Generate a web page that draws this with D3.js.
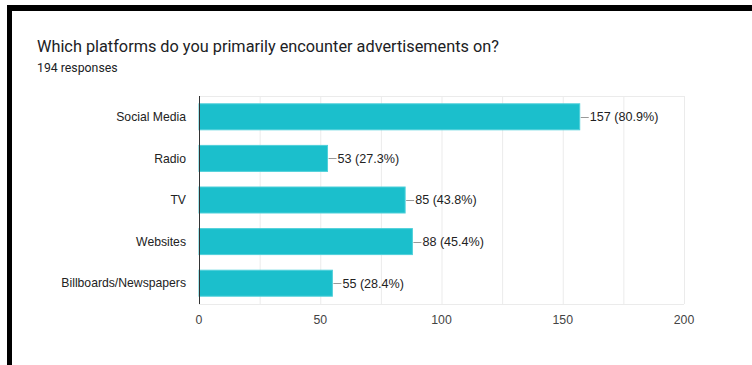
<!DOCTYPE html>
<html>
<head>
<meta charset="utf-8">
<script src="https://cdn.jsdelivr.net/npm/d3@7"></script>
<style>
  html, body { margin: 0; padding: 0; background: #fff; }
  svg { display: block; }
</style>
</head>
<body>
<svg id="chart" width="752" height="365"></svg>
<script>
// Survey results: platforms where respondents encounter advertisements
const categories = ["Social Media", "Radio", "TV", "Websites", "Billboards/Newspapers"];
const counts = [157, 53, 85, 88, 55];
const totalResponses = 194;
const tickValues = [0, 50, 100, 150, 200];
const gridValues = [25, 50, 75, 100, 125, 150, 175, 200];

const title = "Which platforms do you primarily encounter advertisements on?";
const subtitle = totalResponses + " responses";

const svg = d3.select("#chart");
const W = 752, H = 365;

// Frame: dark rules along the top and left edges
svg.append("rect").attr("x", 0).attr("y", 0).attr("width", W).attr("height", H).attr("fill", "#fff");
svg.append("rect").attr("x", 7).attr("y", 5).attr("width", W - 7).attr("height", 6).attr("fill", "#000");
svg.append("rect").attr("x", 7).attr("y", 5).attr("width", 5).attr("height", H - 5).attr("fill", "#000");

svg.append("text")
  .attr("x", 37).attr("y", 52)
  .attr("font-family", "Roboto, Arial, sans-serif")
  .attr("font-size", 16.3)
  .attr("fill", "#202124")
  .text(title);

svg.append("text")
  .attr("x", 37).attr("y", 72)
  .attr("font-family", "Roboto, Arial, sans-serif")
  .attr("font-size", 12.3)
  .attr("fill", "#202124")
  .text(subtitle);

const plot = { left: 199, right: 684, top: 96, bottom: 304 };

const x = d3.scaleLinear().domain([0, 200]).range([plot.left, plot.right]);
const y = d3.scaleBand().domain(categories).range([plot.top, plot.bottom]).paddingInner(0.375).paddingOuter(0.1875);

const labelFont = "'Liberation Sans', Arial, sans-serif";

// Vertical gridlines every 25
svg.append("g").selectAll("line").data(gridValues).join("line")
  .attr("x1", d => x(d) + 0.5).attr("x2", d => x(d) + 0.5)
  .attr("y1", plot.top).attr("y2", plot.bottom)
  .attr("stroke", "#ebebeb").attr("stroke-width", 1);

// Top and bottom plot edges
svg.append("line")
  .attr("x1", plot.left).attr("x2", plot.right)
  .attr("y1", plot.top + 0.5).attr("y2", plot.top + 0.5)
  .attr("stroke", "#ebebeb");
svg.append("line")
  .attr("x1", plot.left).attr("x2", plot.right)
  .attr("y1", plot.bottom + 0.5).attr("y2", plot.bottom + 0.5)
  .attr("stroke", "#ebebeb");

// Bars
svg.append("g").selectAll("rect").data(counts).join("rect")
  .attr("x", x(0))
  .attr("y", (d, i) => y(categories[i]))
  .attr("width", d => x(d) - x(0))
  .attr("height", y.bandwidth())
  .attr("fill", "#1bbfcc")
  .attr("stroke", "#4fd0da")
  .attr("stroke-width", 1);

// Baseline axis
svg.append("line")
  .attr("x1", x(0) + 0.5).attr("x2", x(0) + 0.5)
  .attr("y1", plot.top).attr("y2", plot.bottom)
  .attr("stroke", "#333").attr("stroke-width", 1);

// Category labels
svg.append("g").selectAll("text").data(categories).join("text")
  .attr("x", 186)
  .attr("y", d => y(d) + y.bandwidth() / 2)
  .attr("dy", "0.35em")
  .attr("text-anchor", "end")
  .attr("font-family", labelFont)
  .attr("font-size", 12.2)
  .attr("fill", "#222")
  .text(d => d);

// Value annotations with leader lines
const ann = svg.append("g");
counts.forEach((v, i) => {
  const cy = y(categories[i]) + y.bandwidth() / 2;
  const x0 = x(v);
  ann.append("line")
    .attr("x1", x0 + 1).attr("x2", x0 + 9)
    .attr("y1", Math.round(cy) + 0.5).attr("y2", Math.round(cy) + 0.5)
    .attr("stroke", "#999").attr("stroke-width", 1);
  const pct = (v / totalResponses * 100).toFixed(1);
  ann.append("text")
    .attr("x", x0 + 10)
    .attr("y", cy)
    .attr("dy", "0.35em")
    .attr("font-family", labelFont)
    .attr("font-size", 12.6)
    .attr("fill", "#222")
    .text(`${v} (${pct}%)`);
});

// X tick labels
svg.append("g").selectAll("text").data(tickValues).join("text")
  .attr("x", d => x(d))
  .attr("y", 324)
  .attr("text-anchor", "middle")
  .attr("font-family", labelFont)
  .attr("font-size", 12.3)
  .attr("fill", "#444")
  .text(d => d);
</script>
</body>
</html>
